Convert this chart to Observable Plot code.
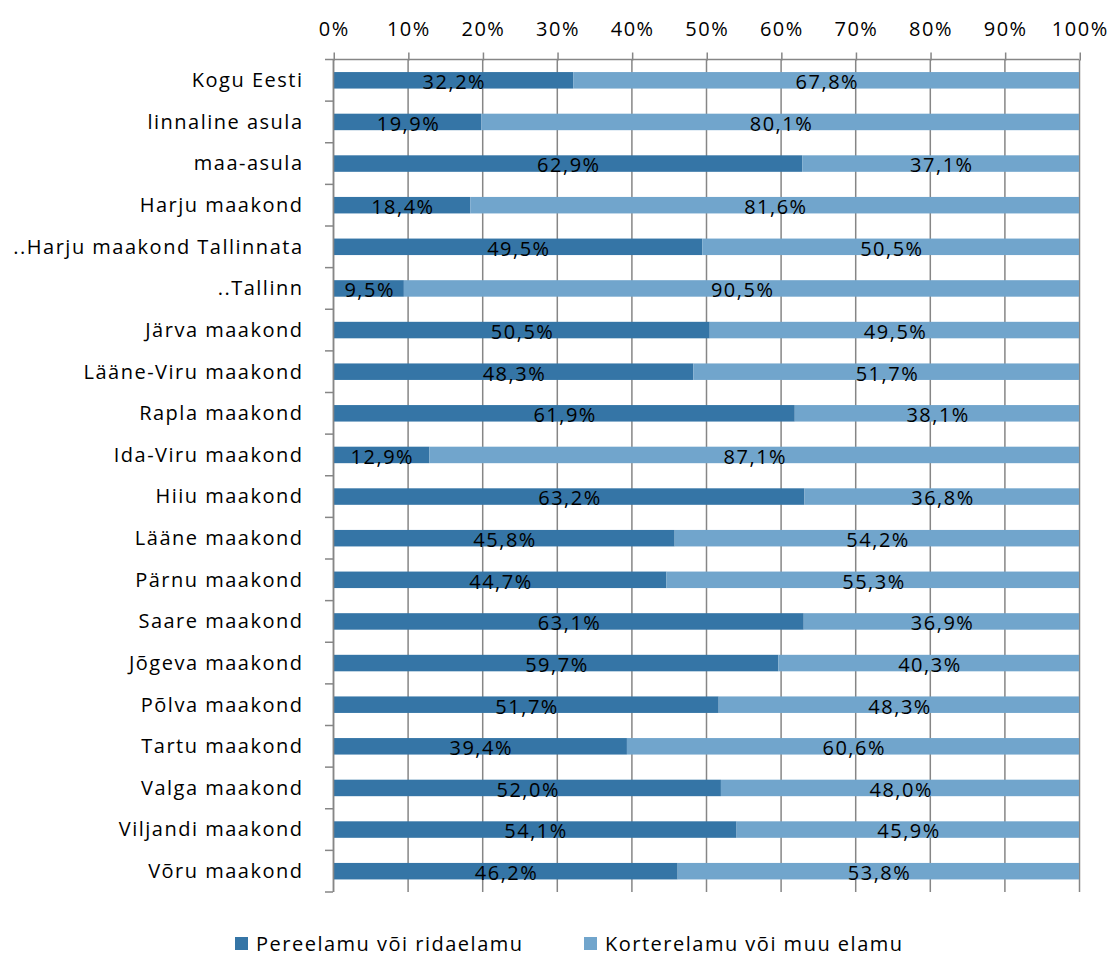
<!DOCTYPE html>
<html>
<head>
<meta charset="utf-8">
<script src="https://cdn.jsdelivr.net/npm/d3@7"></script>
<script src="https://cdn.jsdelivr.net/npm/@observablehq/plot@0.6"></script>
<style>
  body { margin: 0; background: #fff; font-family: "Open Sans", sans-serif; }
  #legend { position: relative; height: 44px; font-size: 20px; color: #000; letter-spacing: 1.5px; }
  .item { position: absolute; display: flex; align-items: center; top: 19px; height: 24px; white-space: nowrap; }
  .sw { width: 13px; height: 13px; display: inline-block; margin-right: 8px; }
</style>
</head>
<body>
<div id="chart"></div>
<div id="legend"></div>
<script>
const categories = [
  "Kogu Eesti", "linnaline asula", "maa-asula", "Harju maakond",
  "..Harju maakond Tallinnata", "..Tallinn", "Järva maakond", "Lääne-Viru maakond",
  "Rapla maakond", "Ida-Viru maakond", "Hiiu maakond", "Lääne maakond",
  "Pärnu maakond", "Saare maakond", "Jõgeva maakond", "Põlva maakond",
  "Tartu maakond", "Valga maakond", "Viljandi maakond", "Võru maakond"
];
const seriesNames = ["Pereelamu või ridaelamu", "Korterelamu või muu elamu"];
const pereelamu = [32.2, 19.9, 62.9, 18.4, 49.5, 9.5, 50.5, 48.3, 61.9, 12.9, 63.2, 45.8, 44.7, 63.1, 59.7, 51.7, 39.4, 52.0, 54.1, 46.2];
const korterelamu = [67.8, 80.1, 37.1, 81.6, 50.5, 90.5, 49.5, 51.7, 38.1, 87.1, 36.8, 54.2, 55.3, 36.9, 40.3, 48.3, 60.6, 48.0, 45.9, 53.8];
const xTicks = [0, 10, 20, 30, 40, 50, 60, 70, 80, 90, 100];
const colors = ["#3575a6", "#71a5cc"];

const data = [];
categories.forEach((c, i) => {
  data.push({cat: c, series: seriesNames[0], value: pereelamu[i]});
  data.push({cat: c, series: seriesNames[1], value: korterelamu[i]});
});

const W = 1112, H = 912;
const mTop = 59.5, mBottom = H - 892, mLeft = 333, mRight = 1112 - 1079;
const step = (H - mTop - mBottom) / categories.length;
const barH = 16.5;
const inset = (step - barH) / 2;
const fmt = v => v.toFixed(1).replace(".", ",") + "%";
const font = "'Open Sans', sans-serif";

const chart = Plot.plot({
  width: W, height: H,
  marginTop: mTop, marginBottom: mBottom, marginLeft: mLeft, marginRight: mRight,
  style: {fontFamily: font, fontSize: "20px", color: "#000", background: "#fff", overflow: "visible", letterSpacing: "1.5px"},
  x: {domain: [0, 100], axis: null, label: null},
  y: {domain: categories, padding: 0, round: false, axis: null, label: null},
  color: {domain: seriesNames, range: colors},
  marks: [
    Plot.gridX(xTicks, {stroke: "#868686", strokeOpacity: 1, strokeWidth: 1.5}),
    Plot.barX(data, Plot.stackX({x: "value", y: "cat", fill: "series", insetTop: inset, insetBottom: inset, order: seriesNames})),
    Plot.text(data, Plot.stackX({x: "value", y: "cat", z: "series", text: d => fmt(d.value), order: seriesNames, fill: "#000", fontSize: 20, dy: 2, dx: 0.75})),
    Plot.axisX(xTicks, {anchor: "top", label: null, tickSize: 8, tickPadding: 16, stroke: "#868686", strokeWidth: 1.5, tickFormat: d => d + "%", fontSize: 20, fill: "#000", dx: 0.75}),
    Plot.axisY({anchor: "left", label: null, tickSize: 0, tickPadding: 30, fontSize: 20, fill: "#000"}),
    Plot.ruleX([0], {stroke: "#868686", strokeWidth: 1.5})
  ]
});

// left axis boundary ticks and top axis line
const svg = d3.select(chart);
const y = chart.scale("y");
const g = svg.append("g").attr("stroke", "#868686").attr("stroke-width", 1.5);
for (let i = 0; i <= categories.length; i++) {
  const yy = (i < categories.length ? y.apply(categories[i]) : y.apply(categories[i - 1]) + y.bandwidth);
  g.append("line").attr("x1", mLeft - 8).attr("x2", mLeft).attr("y1", yy).attr("y2", yy);
}
g.append("line").attr("x1", mLeft).attr("x2", W - mRight).attr("y1", mTop).attr("y2", mTop);

document.getElementById("chart").appendChild(chart);

const legend = document.getElementById("legend");
const legendX = [235, 584];
seriesNames.forEach((s, i) => {
  const item = document.createElement("div");
  item.className = "item";
  item.style.left = legendX[i] + "px";
  const sw = document.createElement("span");
  sw.className = "sw";
  sw.style.background = colors[i];
  const t = document.createElement("span");
  t.textContent = s;
  item.appendChild(sw); item.appendChild(t);
  legend.appendChild(item);
});
</script>
</body>
</html>
